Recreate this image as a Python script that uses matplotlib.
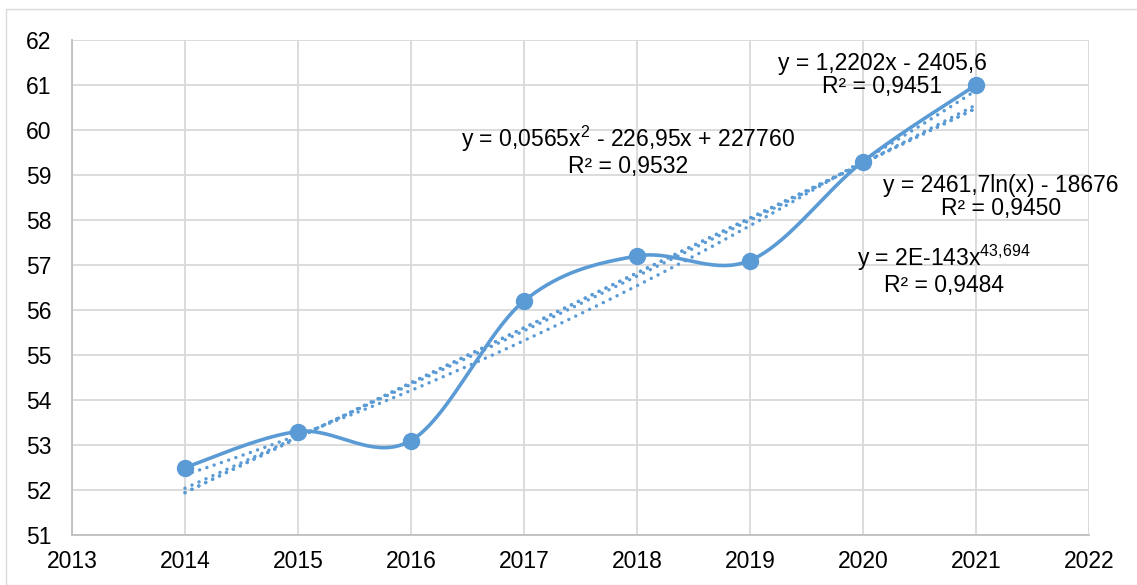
import numpy as np
import matplotlib
matplotlib.use("Agg")
import matplotlib.pyplot as plt
from matplotlib.patches import Rectangle

plt.rcParams['font.family'] = ['Liberation Sans', 'DejaVu Sans']
plt.rcParams['mathtext.fontset'] = 'custom'
plt.rcParams['mathtext.rm'] = 'Liberation Sans'
plt.rcParams['mathtext.it'] = 'Liberation Sans'
plt.rcParams['mathtext.default'] = 'regular'

years = [2014, 2015, 2016, 2017, 2018, 2019, 2020, 2021]
values = [52.5, 53.3, 53.1, 56.2, 57.2, 57.1, 59.3, 61.0]
x_ticks = [2013, 2014, 2015, 2016, 2017, 2018, 2019, 2020, 2021, 2022]
y_ticks = [51, 52, 53, 54, 55, 56, 57, 58, 59, 60, 61, 62]

eq_linear = "y = 1,2202x - 2405,6\nR² = 0,9451"
eq_poly = "y = 0,0565x$^{2}$ - 226,95x + 227760\nR² = 0,9532"
eq_log = "y = 2461,7ln(x) - 18676\nR² = 0,9450"
eq_power = "y = 2E-143x$^{43{,}694}$\nR² = 0,9484"

color = '#5B9BD5'
W, H = 1137, 585
fig = plt.figure(figsize=(W / 100, H / 100), dpi=100)
# outer chart border
fig.patches.append(Rectangle((6 / W, 0), 1.2, (H - 9) / H, transform=fig.transFigure,
                             fill=False, edgecolor='#D9D9D9', linewidth=1.0))
left, right, top, bottom = 72, 1089, 40, 535
ax = fig.add_axes([left / W, 1 - bottom / H, (right - left) / W, (bottom - top) / H])

x = np.array(years, dtype=float)
y = np.array(values, dtype=float)

# Excel-like smoothed line (Catmull-Rom via cubic Bezier)
def smooth(px, py, n=40):
    P = np.column_stack([px, py])
    P = np.vstack([P[0], P, P[-1]])
    out = []
    for i in range(1, len(P) - 2):
        p0, p1, p2, p3 = P[i - 1], P[i], P[i + 1], P[i + 2]
        c1 = p1 + (p2 - p0) / 6
        c2 = p2 - (p3 - p1) / 6
        t = np.linspace(0, 1, n)[:, None]
        seg = (1 - t) ** 3 * p1 + 3 * (1 - t) ** 2 * t * c1 + 3 * (1 - t) * t ** 2 * c2 + t ** 3 * p2
        out.append(seg if i == 1 else seg[1:])
    s = np.vstack(out)
    return s[:, 0], s[:, 1]

xt = np.linspace(x[0], x[-1], 300)
# trend lines
lin = np.polyfit(x, y, 1)
poly = np.polyfit(x, y, 2)
logc = np.polyfit(np.log(x), y, 1)
powc = np.polyfit(np.log(x), np.log(y), 1)
trends = [np.polyval(lin, xt), np.polyval(poly, xt),
          np.polyval(logc, np.log(xt)), np.exp(np.polyval(powc, np.log(xt)))]
for tr in trends:
    ax.plot(xt, tr, color=color, linewidth=2.5, linestyle=(0, (0.01, 2.2)),
            dash_capstyle='round', zorder=3)

sx, sy = smooth(x, y)
ax.plot(sx, sy, color=color, linewidth=2.6, zorder=4)
ax.plot(x, y, 'o', color=color, markersize=11.5, zorder=5)

ax.set_xlim(2013, 2022)
ax.set_ylim(51, 62)
ax.set_xticks(x_ticks)
ax.set_yticks(y_ticks)
ax.grid(True, color='#D9D9D9', linewidth=1.3)
ax.set_axisbelow(True)
for s in ['top', 'right']:
    ax.spines[s].set_visible(False)
for s in ['left', 'bottom']:
    ax.spines[s].set_color('#BFBFBF')
    ax.spines[s].set_linewidth(1.3)
ax.tick_params(length=0, labelsize=16.5, colors='black')
ax.tick_params(axis='x', pad=11)
ax.tick_params(axis='y', pad=15)

def px2data(px, py):
    return (2013 + (px - left) / (right - left) * 9, 62 - (py - top) / (bottom - top) * 11)

for txt, (cx, cy) in [(eq_linear, (882, 75)), (eq_poly, (628, 151)),
                      (eq_log, (1001, 197)), (eq_power, (944, 270))]:
    dx, dy = px2data(cx, cy)
    ax.text(dx, dy, txt, ha='center', va='center', ma='center', fontsize=16.5,
            linespacing=1.05, clip_on=False, zorder=6)

fig.savefig('out.png', dpi=100)
